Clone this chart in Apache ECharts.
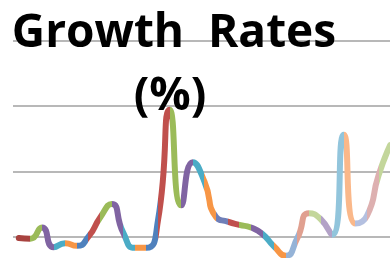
<!DOCTYPE html>
<html>
<head>
<meta charset="utf-8">
<script src="https://cdn.jsdelivr.net/npm/echarts@6/dist/echarts.min.js"></script>
<style>
  html, body { margin: 0; padding: 0; background: #fff; }
  #chart { width: 390px; height: 258px; }
</style>
</head>
<body>
<div id="chart"></div>
<script>
// periods (labels not shown in the picture)
var periods = [];
for (var i = 1; i <= 33; i++) periods.push(String(i));

// growth rate, %
var growth = [-0.1, -0.15, 0.7, -0.8, -0.5, -0.7, 0, 1.45, 2.5, 0.3, -0.85, -0.85, 1.3, 9.7, 2.4,
  5.7, 4.2, 1.5, 1.15, 0.9, 0.7, 0.2, -0.75, -1.45, -0.1, 1.8, 1.35, 0.15, 7.8, 1.0, 1.6, 4.7, 7.0];

// colour of the segment that ends at point k (k = 1..32), excel "vary colours by point"
var segColors = ['#A8423F', '#9BBB59', '#8064A2', '#4BACC6', '#F79646',
  '#4F81BD', '#C0504D', '#9BBB59', '#8064A2', '#4BACC6', '#F79646',
  '#4F81BD', '#C0504D', '#9BBB59', '#8064A2', '#4BACC6', '#F79646',
  '#6F7FB8', '#C0504D', '#9BBB59', '#8064A2', '#4BACC6', '#F79646',
  '#95B3D7', '#E0A090', '#C3D69B', '#B3A2C7', '#92C5DC', '#FAB88A',
  '#B4C0E0', '#DDB0B0', '#C3D69B'];

var yTicks = [-5, 0, 5, 10, 15];

var pieces = [{ lte: 0, color: segColors[0] }];
for (var k = 1; k < growth.length; k++) {
  pieces.push({ gt: k - 1, lte: k, color: segColors[k - 1] });
}

var chart = echarts.init(document.getElementById('chart'), null, { renderer: 'canvas' });

chart.setOption({
  animation: false,
  backgroundColor: '#fff',
  title: [
    {
      text: 'Growth  Rates',
      left: 169, top: 6, textAlign: 'center',
      textStyle: { fontFamily: 'Open Sans', fontWeight: 'bold', fontSize: 46, color: '#000' }
    },
    {
      text: '(%)',
      left: 165, top: 69, textAlign: 'center',
      textStyle: { fontFamily: 'Open Sans', fontWeight: 'bold', fontSize: 46, color: '#000' }
    }
  ],
  grid: { left: 13, top: 40.5, height: 261.6, right: -6, outerBoundsMode: 'none', containLabel: false },
  xAxis: {
    type: 'category',
    data: periods,
    boundaryGap: true,
    axisLine: { show: false },
    axisTick: { show: false },
    axisLabel: { show: false }
  },
  yAxis: {
    type: 'value',
    min: yTicks[0],
    max: yTicks[yTicks.length - 1],
    interval: 5,
    axisLine: { show: false },
    axisTick: { show: false },
    axisLabel: { show: false },
    splitLine: { lineStyle: { color: '#a0a0a0', width: 1.5 } }
  },
  visualMap: {
    type: 'piecewise',
    show: false,
    dimension: 0,
    seriesIndex: 0,
    pieces: pieces
  },
  series: [{
    type: 'line',
    data: growth,
    smooth: 0.6,
    showSymbol: false,
    z: 1,
    lineStyle: { width: 6, cap: 'round', join: 'round' }
  }]
});
</script>
</body>
</html>
